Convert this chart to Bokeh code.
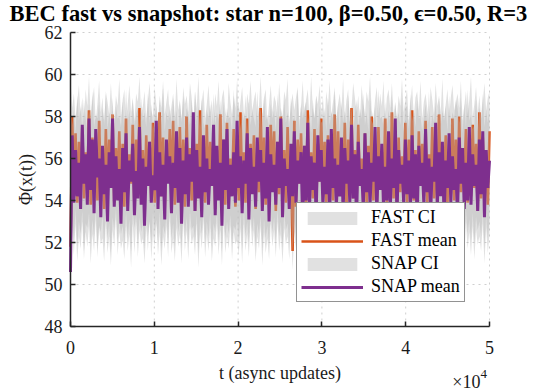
import numpy as np
from bokeh.plotting import figure
from bokeh.models import Range1d, FixedTicker, Label, Legend, LegendItem
from bokeh.embed import file_html
from bokeh.resources import INLINE

# ---------------- data ----------------
t_max = 50000
y_min, y_max = 48, 62
x_ticks = [0, 10000, 20000, 30000, 40000, 50000]
x_tick_labels = ["0", "1", "2", "3", "4", "5"]
y_ticks = [48, 50, 52, 54, 56, 58, 60, 62]

snap_mean = [
    50.6, 57.1, 53.9, 56.4, 54.2, 55.8, 53.6, 57.6, 54.8, 56.2,
    53.8, 57.9, 54.5, 56.9, 53.4, 57.4, 55.1, 56.0, 53.2, 56.6,
    54.3, 55.7, 53.0, 56.3, 54.6, 57.9, 53.7, 56.1, 54.0, 55.5,
    52.9, 56.5, 54.4, 57.2, 53.5, 55.9, 54.9, 56.7, 53.3, 55.4,
    54.1, 57.5, 53.8, 56.0, 52.8, 55.6, 54.7, 56.8, 53.9, 55.2,
    54.5, 57.8, 53.6, 56.3, 54.2, 55.7, 53.1, 56.9, 54.8, 56.1,
    53.4, 55.8, 54.6, 57.3, 53.9, 56.5, 52.9, 55.9, 54.3, 57.0,
    53.7, 56.2, 54.9, 58.2, 53.5, 56.4, 54.1, 55.6, 53.2, 57.1,
    54.4, 56.0, 53.8, 55.5, 54.7, 57.6, 53.3, 56.6, 54.0, 55.8,
    52.8, 56.9, 54.5, 57.4, 53.6, 55.7, 54.2, 56.3, 53.9, 57.8,
    54.6, 56.1, 53.4, 55.9, 54.8, 57.2, 53.1, 56.5, 54.3, 55.6,
    53.7, 57.0, 54.9, 56.4, 53.5, 55.8, 54.1, 57.5, 53.0, 56.2,
    54.4, 55.7, 53.8, 56.8, 54.6, 57.9, 53.2, 56.0, 54.7, 55.5,
    53.6, 56.7, 54.2, 57.3, 53.9, 55.9, 54.8, 56.3, 52.9, 56.6,
    54.0, 57.7, 53.5, 56.1, 54.5, 55.8, 53.3, 57.1, 54.9, 56.4,
    53.8, 55.6, 54.3, 56.9, 53.1, 57.4, 54.6, 56.0, 53.7, 55.7,
    54.2, 57.0, 53.4, 56.5, 54.8, 55.9, 53.9, 57.6, 54.1, 56.2,
    53.0, 56.8, 54.7, 55.5, 53.6, 57.2, 54.4, 56.3, 53.8, 55.8,
    54.9, 57.5, 53.3, 56.1, 54.5, 56.7, 53.7, 55.6, 54.0, 57.3,
    53.5, 56.0, 54.6, 57.9, 53.2, 56.4, 54.8, 55.7, 53.9, 56.9,
    54.3, 55.9, 53.6, 57.1, 54.1, 56.2, 53.0, 56.6, 54.7, 55.8,
    53.8, 57.4, 54.4, 56.0, 53.4, 55.6, 54.9, 57.7, 53.7, 56.3,
    54.2, 56.8, 53.1, 55.9, 54.6, 57.2, 53.9, 56.1, 54.5, 55.5,
    53.3, 57.0, 54.8, 56.5, 53.6, 55.8, 54.0, 57.5, 53.8, 56.2,
    54.7, 55.7, 53.5, 56.9, 54.3, 57.3, 53.2, 56.4, 54.6, 55.9,
]

fast_mean = [
    51.8, 58.0, 54.6, 57.2, 53.9, 56.8, 54.4, 57.5, 54.1, 56.3,
    54.7, 58.3, 53.8, 57.0, 54.5, 56.6, 54.0, 57.8, 54.8, 56.1,
    53.6, 57.4, 54.3, 56.9, 54.9, 58.1, 53.9, 56.5, 54.6, 57.3,
    54.2, 56.7, 53.7, 57.9, 54.4, 56.2, 54.8, 57.6, 53.5, 56.9,
    54.5, 58.4, 54.1, 56.4, 53.8, 57.1, 54.7, 56.8, 54.0, 57.7,
    53.9, 56.3, 54.6, 58.2, 54.2, 57.0, 53.6, 56.6, 54.9, 57.4,
    54.3, 57.8, 53.8, 56.1, 54.5, 57.5, 54.1, 56.9, 53.7, 58.0,
    54.8, 56.5, 54.0, 57.3, 53.5, 56.7, 54.6, 58.3, 54.2, 56.2,
    53.9, 57.6, 54.4, 56.8, 54.7, 57.2, 53.6, 56.4, 54.1, 58.1,
    54.5, 56.9, 53.8, 57.7, 54.3, 56.0, 54.9, 57.4, 53.7, 56.6,
    54.0, 58.2, 54.6, 56.3, 53.9, 57.9, 54.2, 56.7, 54.8, 57.1,
    53.6, 56.5, 54.4, 58.4, 54.1, 57.0, 53.8, 56.2, 54.5, 57.6,
    54.7, 57.3, 53.5, 56.8, 54.3, 58.0, 54.0, 56.4, 53.9, 57.5,
    54.6, 56.1, 51.6, 57.8, 53.7, 56.9, 54.8, 57.2, 54.4, 56.6,
    53.8, 58.3, 54.5, 56.3, 54.1, 57.4, 53.6, 56.7, 54.9, 57.9,
    54.3, 56.8, 53.9, 57.1, 54.6, 56.2, 54.0, 58.1, 53.7, 57.3,
    54.8, 56.5, 54.2, 57.7, 53.5, 56.9, 54.4, 58.4, 54.1, 56.4,
    53.9, 57.6, 54.7, 56.0, 54.3, 57.2, 53.8, 56.6, 54.5, 58.0,
    54.0, 56.7, 53.6, 57.5, 54.8, 56.3, 54.2, 57.9, 53.9, 56.8,
    54.6, 58.2, 54.1, 56.5, 53.7, 57.0, 54.4, 56.1, 54.9, 57.7,
    53.8, 56.9, 54.3, 58.3, 54.0, 56.4, 53.5, 57.3, 54.7, 56.7,
    54.2, 57.8, 53.9, 56.2, 54.6, 57.5, 54.1, 56.8, 53.6, 58.1,
    54.5, 56.6, 54.8, 57.1, 53.8, 56.3, 54.3, 57.9, 54.0, 56.9,
    53.7, 58.0, 54.4, 56.5, 54.9, 57.4, 53.9, 56.0, 54.2, 57.6,
    54.6, 56.7, 53.5, 58.2, 54.1, 57.0, 54.8, 56.4, 53.8, 57.3,
]

fast_hi = [
    59.8, 58.4, 59.1, 57.9, 58.7, 59.5, 58.1, 58.9, 57.7, 59.3,
    58.5, 59.9, 58.0, 58.8, 59.4, 57.8, 58.6, 59.7, 58.2, 58.9,
    57.6, 59.2, 58.7, 58.1, 59.6, 58.3, 57.9, 59.0, 58.5, 59.8,
    58.0, 58.8, 59.3, 57.7, 58.6, 59.5, 58.2, 58.9, 57.8, 59.1,
    58.7, 59.9, 58.1, 58.5, 59.2, 57.9, 58.8, 59.6, 58.3, 58.0,
    59.4, 58.6, 57.8, 59.0, 58.4, 59.7, 58.1, 58.7, 59.3, 57.9,
    58.5, 59.1, 58.0, 59.8, 58.3, 58.8, 57.7, 59.4, 58.6, 59.0,
    58.2, 59.6, 58.9, 57.8, 59.2, 58.4, 59.9, 58.1, 58.7, 59.3,
    57.9, 58.6, 59.5, 58.2, 58.8, 57.6, 59.1, 58.5, 59.7, 58.0,
    58.9, 59.3, 58.3, 57.8, 59.6, 58.7, 58.1, 59.0, 58.4, 59.8,
    58.0, 58.7, 59.4, 58.2, 57.9, 59.1, 58.6, 59.7, 58.3, 58.8,
    59.2, 57.8, 58.5, 59.9, 58.1, 58.9, 59.3, 57.7, 58.6, 59.5,
    58.2, 59.0, 58.7, 57.9, 59.6, 58.4, 58.0, 59.2, 58.8, 59.8,
    57.7, 58.6, 59.1, 58.3, 58.9, 59.4, 57.8, 58.5, 59.7, 58.1,
    58.8, 59.3, 58.0, 59.9, 58.4, 57.9, 59.0, 58.6, 59.5, 58.2,
    58.9, 57.8, 59.2, 58.5, 59.7, 58.1, 58.7, 59.4, 57.9, 58.6,
    59.1, 58.3, 59.8, 58.0, 58.8, 59.3, 57.7, 58.4, 59.6, 58.9,
    58.2, 59.0, 57.8, 59.5, 58.6, 58.1, 59.2, 58.7, 59.9, 58.3,
    57.9, 58.8, 59.4, 58.0, 59.1, 58.5, 59.7, 57.8, 58.9, 59.3,
    58.4, 59.6, 58.1, 58.7, 57.9, 59.0, 58.5, 59.8, 58.2, 58.8,
    59.3, 57.8, 58.6, 59.5, 58.0, 58.9, 59.2, 58.3, 59.7, 57.9,
    58.7, 59.1, 58.4, 57.7, 59.4, 58.8, 58.1, 59.6, 58.5, 59.0,
    58.2, 59.8, 57.9, 58.6, 59.3, 58.0, 58.9, 59.5, 58.3, 58.7,
    59.1, 58.4, 59.7, 57.8, 58.5, 59.2, 58.1, 58.8, 59.9, 58.0,
    58.6, 59.4, 58.2, 59.0, 57.9, 58.7, 59.6, 58.3, 58.9, 59.2,
]

fast_lo = [
    50.5, 52.6, 51.4, 52.9, 51.1, 52.3, 51.7, 53.0, 51.2, 52.5,
    51.8, 52.8, 51.0, 52.4, 51.6, 53.1, 51.3, 52.7, 51.9, 52.2,
    51.1, 52.9, 51.5, 52.3, 50.9, 52.6, 51.8, 53.2, 51.4, 52.5,
    51.7, 52.1, 51.2, 52.8, 51.6, 52.4, 50.8, 52.9, 51.5, 53.0,
    51.3, 52.6, 51.9, 52.2, 51.0, 52.7, 51.6, 53.1, 51.2, 52.4,
    51.8, 52.9, 51.4, 52.5, 50.9, 52.3, 51.7, 52.8, 51.3, 53.2,
    51.5, 52.2, 51.1, 52.7, 51.8, 52.4, 51.0, 53.0, 51.6, 52.6,
    51.2, 52.8, 51.9, 52.3, 51.4, 52.9, 50.8, 52.5, 51.7, 53.1,
    51.3, 52.4, 51.6, 52.7, 51.1, 52.2, 51.8, 52.9, 51.4, 52.6,
    50.9, 53.0, 51.5, 52.3, 51.7, 52.8, 51.2, 52.5, 51.9, 52.1,
    51.4, 52.7, 51.0, 52.9, 51.6, 52.4, 51.3, 53.1, 51.8, 52.6,
    51.1, 52.3, 51.7, 52.8, 50.9, 52.5, 51.5, 52.2, 51.2, 52.9,
    51.8, 52.6, 51.3, 53.0, 51.6, 52.4, 51.0, 52.7, 51.9, 52.3,
    51.2, 52.8, 50.7, 52.5, 51.7, 52.9, 51.4, 52.2, 51.1, 52.6,
    51.6, 53.1, 51.3, 52.4, 51.8, 52.7, 50.9, 52.5, 51.5, 52.8,
    51.0, 52.3, 51.7, 52.9, 51.2, 52.6, 51.9, 52.4, 51.4, 53.0,
    51.5, 52.7, 51.1, 52.2, 51.8, 52.8, 51.3, 52.5, 50.8, 52.9,
    51.7, 52.4, 51.4, 53.1, 51.0, 52.6, 51.6, 52.3, 51.9, 52.7,
    51.2, 52.9, 51.5, 52.5, 51.8, 52.2, 51.1, 52.8, 51.4, 53.0,
    51.6, 52.6, 50.9, 52.4, 51.3, 52.9, 51.7, 52.7, 51.2, 52.3,
    51.9, 52.5, 51.4, 53.1, 51.0, 52.8, 51.6, 52.2, 51.3, 52.6,
    51.1, 52.9, 51.8, 52.4, 51.5, 52.7, 50.9, 52.5, 51.7, 53.0,
    51.4, 52.3, 51.2, 52.8, 51.9, 52.6, 51.3, 52.9, 51.0, 52.4,
    51.8, 52.7, 51.5, 52.2, 51.1, 53.0, 51.7, 52.5, 51.4, 52.8,
    51.2, 52.6, 51.9, 52.3, 51.6, 52.9, 51.0, 52.7, 51.5, 52.4,
]

snap_hi = [
    58.9, 57.6, 58.3, 57.2, 59.0, 57.8, 58.5, 57.4, 58.8, 57.9,
    57.3, 58.6, 57.7, 59.2, 57.5, 58.1, 57.9, 58.7, 57.2, 58.4,
    57.8, 59.1, 57.4, 58.2, 57.6, 58.9, 57.3, 58.5, 57.9, 58.0,
    57.5, 58.7, 57.2, 59.3, 57.7, 58.3, 57.4, 58.8, 57.6, 58.1,
    58.4, 57.3, 58.9, 57.8, 58.2, 57.5, 59.1, 57.7, 58.6, 57.4,
    57.9, 58.5, 57.2, 58.8, 57.6, 59.4, 57.3, 58.2, 57.8, 58.6,
    57.5, 58.9, 57.7, 58.3, 57.2, 58.7, 57.9, 59.0, 57.4, 58.4,
    58.1, 57.6, 58.8, 57.3, 59.2, 57.8, 58.5, 57.5, 58.9, 57.7,
    57.4, 58.3, 57.9, 58.6, 57.2, 59.1, 57.6, 58.2, 57.8, 58.8,
    57.3, 58.7, 57.5, 58.4, 57.9, 58.0, 57.2, 59.3, 57.7, 58.5,
    58.6, 57.4, 58.2, 57.8, 59.0, 57.3, 58.7, 57.6, 58.3, 57.9,
    57.5, 59.2, 57.7, 58.5, 57.2, 58.9, 57.8, 58.1, 57.4, 58.6,
    57.9, 58.3, 57.3, 59.1, 57.6, 58.4, 57.2, 58.8, 57.7, 58.2,
    57.4, 58.9, 57.8, 58.0, 57.5, 59.3, 57.3, 58.6, 57.9, 58.4,
    58.7, 57.6, 58.1, 57.2, 58.8, 57.9, 59.0, 57.4, 58.5, 57.7,
    57.8, 58.4, 57.3, 58.9, 57.6, 58.2, 57.9, 59.2, 57.5, 58.6,
    57.2, 58.7, 57.7, 58.3, 57.4, 59.0, 57.8, 58.5, 57.3, 58.1,
    58.8, 57.5, 58.4, 57.9, 59.1, 57.6, 58.2, 57.3, 58.9, 57.8,
    57.6, 58.5, 57.2, 59.3, 57.9, 58.0, 57.5, 58.7, 57.4, 58.3,
    57.7, 59.0, 57.3, 58.6, 57.8, 58.2, 57.6, 58.9, 57.2, 58.4,
    58.5, 57.4, 59.1, 57.8, 58.3, 57.5, 58.8, 57.9, 58.0, 57.3,
    57.9, 58.6, 57.6, 59.2, 57.4, 58.1, 57.7, 58.7, 57.2, 58.9,
    57.5, 58.3, 57.8, 58.5, 57.3, 59.0, 57.6, 58.2, 57.9, 58.8,
    58.4, 57.7, 58.9, 57.2, 58.6, 57.5, 59.3, 57.8, 58.1, 57.4,
    57.6, 58.8, 57.3, 58.4, 57.9, 59.1, 57.5, 58.3, 57.7, 58.6,
]

snap_lo = [
    50.3, 53.2, 52.1, 53.6, 51.8, 53.0, 52.4, 53.5, 51.6, 52.9,
    52.7, 53.4, 51.9, 53.1, 52.3, 53.7, 51.7, 52.8, 52.5, 53.3,
    51.8, 53.5, 52.2, 52.9, 51.5, 53.2, 52.6, 53.6, 52.0, 53.0,
    52.4, 52.8, 51.9, 53.4, 52.2, 53.1, 51.6, 53.5, 52.7, 53.3,
    52.0, 53.2, 52.5, 52.9, 51.7, 53.6, 52.3, 53.0, 51.9, 53.4,
    52.6, 53.1, 52.1, 53.5, 51.6, 52.8, 52.4, 53.3, 52.0, 53.7,
    52.2, 52.9, 51.8, 53.4, 52.5, 53.0, 51.7, 53.6, 52.3, 53.2,
    51.9, 53.5, 52.6, 52.8, 52.1, 53.3, 51.5, 53.1, 52.4, 53.6,
    52.0, 53.0, 52.3, 53.4, 51.8, 52.9, 52.5, 53.5, 52.1, 53.2,
    51.6, 53.7, 52.2, 53.0, 52.4, 53.3, 51.9, 52.8, 52.6, 53.1,
    52.1, 53.4, 51.7, 53.6, 52.3, 53.0, 52.0, 53.5, 52.5, 53.2,
    51.8, 52.9, 52.4, 53.3, 51.6, 53.1, 52.2, 52.8, 51.9, 53.5,
    52.5, 53.2, 52.0, 53.6, 52.3, 53.0, 51.7, 53.4, 52.6, 52.9,
    51.9, 53.5, 51.5, 53.1, 52.4, 53.6, 52.1, 52.8, 51.8, 53.3,
    52.3, 53.7, 52.0, 53.0, 52.5, 53.4, 51.6, 53.2, 52.2, 53.5,
    51.7, 52.9, 52.4, 53.6, 51.9, 53.3, 52.6, 53.0, 52.1, 53.4,
    52.2, 53.4, 51.8, 52.8, 52.5, 53.5, 52.0, 53.1, 51.6, 53.6,
    52.4, 53.0, 52.1, 53.7, 51.7, 53.2, 52.3, 52.9, 52.6, 53.3,
    51.9, 53.5, 52.2, 53.1, 52.5, 52.8, 51.8, 53.4, 52.1, 53.6,
    52.3, 53.2, 51.6, 53.0, 52.0, 53.5, 52.4, 53.3, 51.9, 52.9,
    52.6, 53.1, 52.1, 53.7, 51.7, 53.4, 52.3, 52.8, 52.0, 53.2,
    51.8, 53.5, 52.5, 53.0, 52.2, 53.3, 51.6, 53.1, 52.4, 53.6,
    52.1, 52.9, 51.9, 53.4, 52.6, 53.2, 52.0, 53.5, 51.7, 53.0,
    52.5, 53.3, 52.2, 52.8, 51.8, 53.6, 52.4, 53.1, 52.1, 53.4,
    51.9, 53.2, 52.6, 53.0, 52.3, 53.5, 51.7, 53.3, 52.2, 53.1,
]

t = np.linspace(0, t_max, len(snap_mean))

# ---------------- layout: axes box inside a canvas-wide frame ----------------
FONT = "Liberation Serif"
AX = "#262626"
GRID = "#cfcfcf"
ORANGE = "#D95319"
PURPLE = "#7E2F8E"
CI_COLOR = "#b8b8b8"

W, H = 540, 390
BOX_L, BOX_R, BOX_T, BOX_B = 70, 489, 32, 326   # axes box in canvas pixels
px_per_y = (BOX_B - BOX_T) / (y_max - y_min)
px_per_x = (BOX_R - BOX_L) / t_max
x_lo = -BOX_L / px_per_x
x_hi = t_max + (W - BOX_R) / px_per_x
y_top = y_max + BOX_T / px_per_y
y_lo = y_max - (H - BOX_T) / px_per_y


def y_at(px):
    return y_max - (px - BOX_T) / px_per_y


p = figure(width=W, height=H, output_backend="svg", toolbar_location=None,
           x_range=Range1d(x_lo, x_hi), y_range=Range1d(y_lo, y_top),
           min_border_left=0, min_border_right=0,
           min_border_top=0, min_border_bottom=0)

p.outline_line_color = None
p.background_fill_color = "white"

# dotted grid only over the axes box
p.xgrid.visible = False
p.ygrid.visible = False
p.segment(x0=x_ticks, y0=[y_min] * len(x_ticks), x1=x_ticks, y1=[y_max] * len(x_ticks),
          line_color=GRID, line_dash="2 4", line_width=1, level="underlay")
p.segment(x0=[0] * len(y_ticks), y0=y_ticks, x1=[t_max] * len(y_ticks), y1=y_ticks,
          line_color=GRID, line_dash="2 4", line_width=1, level="underlay")

fci = p.varea(x=t, y1=fast_lo, y2=fast_hi, fill_color=CI_COLOR, fill_alpha=0.42)
fml = p.line(t, fast_mean, line_color=ORANGE, line_width=2.6)
sci = p.varea(x=t, y1=snap_lo, y2=snap_hi, fill_color=CI_COLOR, fill_alpha=0.42)
sml = p.line(t, snap_mean, line_color=PURPLE, line_width=3)

p.xaxis.ticker = FixedTicker(ticks=x_ticks)
p.xaxis.major_label_overrides = dict(zip(x_ticks, x_tick_labels))
p.xaxis.fixed_location = y_min
p.xaxis.bounds = (0, t_max)
p.yaxis.ticker = FixedTicker(ticks=y_ticks)
p.yaxis.fixed_location = 0
p.yaxis.bounds = (y_min, y_max)

for ax in (p.xaxis[0], p.yaxis[0]):
    ax.axis_line_color = AX
    ax.axis_line_width = 1.5
    ax.major_tick_line_color = AX
    ax.major_tick_line_width = 1.5
    ax.major_tick_in = 5
    ax.major_tick_out = 0
    ax.minor_tick_line_color = None
    ax.major_label_text_font = FONT
    ax.major_label_text_font_size = "18px"
    ax.major_label_text_color = "#1a1a1a"
    ax.axis_label_text_font = FONT
    ax.axis_label_text_font_size = "18px"
    ax.axis_label_text_font_style = "normal"
    ax.axis_label_text_color = "#1a1a1a"

p.xaxis.axis_label = "t (async updates)"
p.xaxis.major_label_standoff = 14
p.xaxis.axis_label_standoff = 6
p.yaxis.major_label_standoff = 8

# chart title (left edge at 9 px, centre line at 13 px from the top)
p.add_layout(Label(x=9, x_units="screen", y=y_at(13),
                   text="BEC fast vs snapshot: star n=100, \u03b2=0.50, \u03f5=0.50, R=3",
                   text_align="left", text_baseline="middle", text_font=FONT,
                   text_font_size="22.5px", text_font_style="bold", text_color="#000000"))

# y-axis title, centred on the axes box
p.add_layout(Label(x=25, x_units="screen", y=(y_min + y_max) / 2, text="\u03a6(x(t))",
                   angle=np.pi / 2, text_align="center", text_baseline="middle",
                   text_font=FONT, text_font_size="18px", text_color="#1a1a1a"))

legend = Legend(items=[
    LegendItem(label="FAST CI", renderers=[fci]),
    LegendItem(label="FAST mean", renderers=[fml]),
    LegendItem(label="SNAP CI", renderers=[sci]),
    LegendItem(label="SNAP mean", renderers=[sml]),
], location=(296, H - 302))
legend.border_line_color = AX
legend.border_line_width = 1.5
legend.background_fill_color = "white"
legend.background_fill_alpha = 1.0
legend.label_text_font = FONT
legend.label_text_font_size = "18px"
legend.label_text_color = "#000000"
legend.glyph_width = 62
legend.glyph_height = 16
legend.label_height = 20
legend.label_width = 86
legend.label_standoff = 8
legend.padding = 4
legend.spacing = 2
legend.margin = 0
p.add_layout(legend)

# exponent note of the x axis
y_note = y_at(381)
p.add_layout(Label(x=t_max, y=y_note, x_offset=-9, text="\u00d710",
                   text_align="right", text_baseline="alphabetic", text_font=FONT,
                   text_font_size="18px", text_color="#1a1a1a"))
p.add_layout(Label(x=t_max, y=y_note, x_offset=-9, y_offset=8, text="4",
                   text_align="left", text_baseline="alphabetic", text_font=FONT,
                   text_font_size="13px", text_color="#1a1a1a"))

open("out.html", "w").write(file_html(p, INLINE))
